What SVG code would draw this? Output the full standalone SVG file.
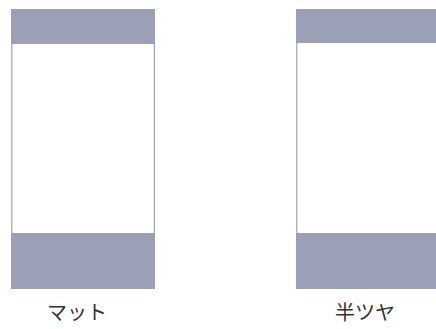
<svg xmlns="http://www.w3.org/2000/svg" width="436" height="329" viewBox="0 0 436 329">
<style>
.band{fill:#9ba0b6}
.edge{stroke:#a3a3a8;stroke-width:1.2;fill:none}
.lbl{font-family:"Noto Sans CJK JP","Noto Sans",sans-serif;font-size:20px;fill:#333;text-anchor:middle}
</style>
<rect width="436" height="329" fill="#fff"/>
<g id="matte">
<rect class="band" x="11" y="9" width="144" height="35"/>
<line class="edge" x1="11.8" y1="44" x2="11.8" y2="233"/>
<line class="edge" x1="154.4" y1="44" x2="154.4" y2="233"/>
<rect class="band" x="11" y="233" width="144" height="56"/>
<text class="lbl" x="77" y="320">マット</text>
</g>
<g id="semigloss">
<rect class="band" x="296" y="9" width="140" height="34"/>
<line class="edge" x1="296.8" y1="43" x2="296.8" y2="233"/>
<rect class="band" x="296" y="233" width="140" height="56"/>
<text class="lbl" x="365" y="320">半ツヤ</text>
</g>
</svg>
